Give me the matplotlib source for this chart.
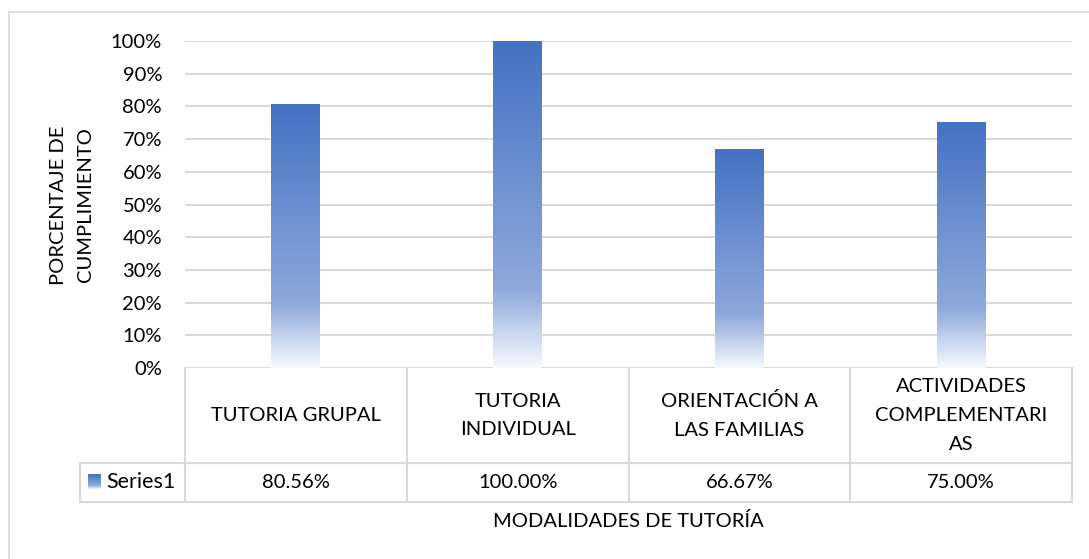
import numpy as np
import matplotlib
matplotlib.use("Agg")
import matplotlib.pyplot as plt
from matplotlib.colors import LinearSegmentedColormap, to_rgb
from matplotlib.patches import Rectangle

plt.rcParams['font.family'] = ['Lato', 'DejaVu Sans']

categories = ["TUTORIA GRUPAL", "TUTORIA\nINDIVIDUAL", "ORIENTACIÓN A\nLAS FAMILIAS",
              "ACTIVIDADES\nCOMPLEMENTARI\nAS"]
values = [0.8056, 1.0, 0.6667, 0.75]
value_labels = ["80.56%", "100.00%", "66.67%", "75.00%"]
series_name = "Series1"
y_ticks = [0, 0.1, 0.2, 0.3, 0.4, 0.5, 0.6, 0.7, 0.8, 0.9, 1.0]

W, H = 1089, 559
fig = plt.figure(figsize=(W / 100, H / 100), dpi=100)

# outer chart frame
fig.add_artist(Rectangle((9 / W, -0.1), 1.2, 1 - 12 / H + 0.1, transform=fig.transFigure,
                         fill=False, edgecolor="#D9D9D9", lw=1.2))

ax = fig.add_axes([185 / W, 191 / H, (1072 - 185) / W, (368 - 41) / H])

grid_col = "#D9D9D9"
fs = 14.5

# top -> bottom gradient (dark blue, lighter blue, almost white)
grad = LinearSegmentedColormap.from_list(
    "bar", [(0.0, to_rgb("#4472C4")), (0.76, to_rgb("#8EA9DB")), (1.0, to_rgb("#F7F9FD"))])
g = grad(np.linspace(0, 1, 256))[:, None, :3]

bw = 0.22
x = np.arange(len(categories))
for xi, v in zip(x, values):
    ax.imshow(g, extent=(xi - bw / 2, xi + bw / 2, 0, v), aspect="auto", zorder=2,
              interpolation="bilinear")

ax.set_xlim(-0.5, len(categories) - 0.5)
ax.set_ylim(0, 1)
ax.set_yticks(y_ticks)
ax.set_yticklabels([f"{int(round(t * 100))}%" for t in y_ticks], fontsize=fs)
ax.set_xticks([])
ax.tick_params(axis="y", length=0, pad=16.5)
for t in y_ticks:
    ax.axhline(t, color=grid_col, lw=1.5, zorder=1)
for s in ax.spines.values():
    s.set_visible(False)

# data table under the axis
r1 = -95 / 327
r2 = -134 / 327
left = -0.5 - 105 / 221.75
lkw = dict(color=grid_col, lw=1.5, clip_on=False, zorder=1)
ax.plot([-0.5, 3.5], [r1, r1], **lkw)
ax.plot([left, 3.5], [r1, r1], **lkw)
ax.plot([left, 3.5], [r2, r2], **lkw)
ax.plot([left, left], [r1, r2], **lkw)
for b in np.arange(-0.5, 4.0, 1.0):
    ax.plot([b, b], [0, r2], **lkw)

for xi, c, vl in zip(x, categories, value_labels):
    ax.text(xi, r1 / 2, c, ha="center", va="center", fontsize=fs, linespacing=1.85)
    ax.text(xi, (r1 + r2) / 2, vl, ha="center", va="center", fontsize=fs)

# legend key in the table
ky = (r1 + r2) / 2
kh = 14 / 327
ax.imshow(g, extent=(left + 8 / 221.75, left + 21 / 221.75, ky - kh / 2, ky + kh / 2),
          aspect="auto", clip_on=False, zorder=2)
ax.text(left + 26 / 221.75, ky, series_name, ha="left", va="center", fontsize=15.5)
ax.set_xlim(-0.5, len(categories) - 0.5)
ax.set_ylim(0, 1)

fig.text(628 / W, 1 - 521 / H, "MODALIDADES DE TUTORÍA", ha="center", va="center", fontsize=fs)
fig.text(72 / W, 1 - 205 / H, "PORCENTAJE DE\nCUMPLIMIENTO", ha="center", va="center",
         rotation=90, fontsize=fs, linespacing=1.7)

fig.savefig("out.png", dpi=100)
